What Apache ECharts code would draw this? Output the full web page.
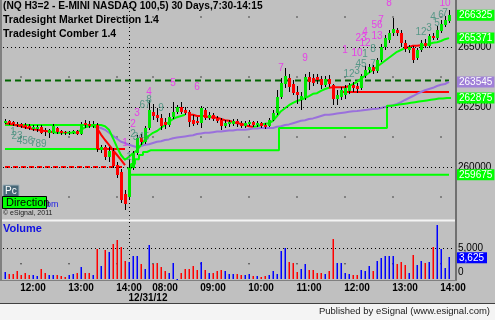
<!DOCTYPE html>
<html><head><meta charset="utf-8">
<script src="https://cdn.jsdelivr.net/npm/echarts@6/dist/echarts.min.js"></script>
<style>html,body{margin:0;padding:0;background:#c0c0c0;overflow:hidden}#c{width:495px;height:320px}</style>
</head><body><div id="c"></div><script>
// ---- categories (5-minute bars, two sessions) ----
function buildTimes(start, end){const out=[];let [h,m]=start.split(':').map(Number);const [eh,em]=end.split(':').map(Number);
  while(h*60+m<=eh*60+em){out.push(String(h).padStart(2,'0')+':'+String(m).padStart(2,'0'));m+=5;if(m>=60){m-=60;h++;}}return out;}
const times = buildTimes('11:25','14:10').concat(buildTimes('07:30','14:00'));

// ---- OHLC ----
const open  = [261825,261925,261875,261800,261800,261750,261700,261575,261575,261675,261550,261425,261425,261625,261500,261450,261425,261425,261500,261375,261825,261800,261700,261750,260700,260825,260425,260675,260075,259800,258875,258750,259950,260575,
261250,261050,261625,262300,262175,262050,261875,261750,262075,262300,262500,262375,262300,261950,261925,261825,262375,262050,262175,262050,261950,261700,261800,261800,261925,261825,261700,261800,261875,261750,261825,261750,261700,261950,262250,262925,263450,263700,263450,263125,262800,262875,263750,263700,263750,263675,263425,263675,263425,262825,262925,263000,263175,263425,263375,263300,263800,264050,264175,264000,264450,265000,265300,265575,265700,265575,265175,264875,264950,264550,264875,265175,265050,265450,265375,265675,265925,266075];
const close = [261925,261825,261800,261750,261700,261675,261625,261675,261675,261425,261450,261550,261700,261450,261425,261425,261450,261500,261375,261800,261750,261700,261800,260750,260825,260425,260675,260050,259675,258625,258450,259950,260575,261200,
261050,261625,262375,262125,262050,261700,261750,262075,262300,262500,262300,262250,261875,261800,261825,262450,262050,262175,262000,261925,261700,261825,261875,261925,261800,261700,261825,261875,261750,261825,261700,261675,261950,262250,262925,263500,263800,263325,263075,263000,262950,263750,263550,263500,263625,263425,263675,263450,262825,263000,263200,263300,263425,263300,263250,263800,264050,264175,264000,264450,265000,265375,265575,265750,265575,265175,264925,265000,264450,264875,265175,265050,265450,265375,265700,265950,266125,266325];
const low   = [261800,261750,261700,261675,261625,261575,261550,261500,261450,261375,261300,261200,261375,261375,261325,261325,261325,261375,261325,261325,261625,261625,261625,260625,260575,260300,260200,259950,259550,258500,258200,258625,259875,260500,
260925,260950,261550,261950,261875,261550,261575,261675,262000,262200,262200,262175,261675,261700,261750,261625,261950,261950,261925,261825,261550,261625,261675,261700,261675,261625,261625,261700,261675,261675,261625,261575,261675,261925,262175,262825,263300,263125,263000,262625,262375,262800,263200,263375,263450,263250,263325,263325,262575,262575,262800,262825,263050,263125,263075,263200,263700,263925,263875,263925,264375,264875,265175,265450,265450,265000,264800,264750,264325,264450,264800,264950,264950,265300,265300,265575,265825,266000];
const high  = [262000,261950,261925,261875,261825,261825,261800,261750,261750,261750,261625,261575,261800,261675,261550,261500,261500,261550,261550,261875,261950,261925,261925,261825,260925,260925,260825,260800,260200,259925,259050,260300,260675,261325,
261375,261700,262800,262625,262450,262200,262050,262250,262700,262575,262700,262500,262375,262175,262075,262550,262450,262300,262250,262125,262050,261950,261950,262000,262000,261925,261925,261950,261925,261925,261875,261825,262050,262375,263200,263700,264125,263875,263625,263375,263125,263875,263950,263875,263875,263800,263800,263825,263450,263200,263325,263425,263500,263550,263500,263875,264200,264300,264250,264550,265125,265500,265700,266200,265800,265700,265300,265075,265050,264950,265300,265325,265550,265575,265875,266125,266300,266550];
const volume = [1150,880,760,1270,590,1050,590,590,420,1730,990,590,590,590,420,330,590,880,1050,2000,990,1050,590,4950,2170,4710,4440,5850,6360,5290,2970,2850,3810,3810,2460,1610,5680,2460,2570,1900,1320,1050,2680,80,990,1730,1730,2170,1560,2850,1560,1050,990,1320,1560,1270,880,760,760,590,700,880,420,420,330,420,590,1270,880,4550,5120,2750,2680,1150,1730,2400,1560,1560,1050,1050,880,1270,6520,2680,2680,1050,880,590,680,1470,1270,2120,1320,2970,3530,3870,3870,3870,2400,2750,2290,990,3980,2290,3020,2570,2850,5290,8900,5000,1830,3625];

// ---- indicator lines: [startIndex, values...] ----
const upperGreen = [[0,261750,261750,261750,261750,261750,261750,261750,261750,261750,261750,261750,261750,261750,261750,261750,261750,261750,261750,261750,261750,261750,261750,261750,261750,261750,261700,261550,261200,260825,260500,260300,260425,260575,260700,260925,261125,261300,261425,261500,261625,261750,261875,262000,262075,262125,262175],
  [62,261675,261700,261750,261800,261825,261925,262125,262325,262450,262575,262675,262750,262800,262875,262950,263050,263075,263175,263250,263300],
  [86,263375,263450,263550,263675,263800,263925,264050,264175,264300,264425,264550,264675,264800,264875,264950],
  [104,265075,265075,265125,265175,265200,265250,265325,265371]];
const upperRed = [[46,262175,262175,262125,262125,262125,262075,262075,262050,262000,261950,261925,261875,261825,261800,261750,261700,261675],
  [81,263300,263325,263325,263325,263325,263375],
  [100,264950,265000,265050,265050,265075]];
const dirRed = [[0,261825,261800,261775,261725,261700,261650,261625,261575,261550,261525,261500,261475,261450],
  [23,261625,261350,261125,260925,260700,260500,260300,260075]];
const dirGreen = [[12,261450,261425,261425,261425,261425,261425,261425,261550,261650,261700,261725,261625]];
const purple = [[23,261675,261625,261550,261425,261300,261175,261050,261000,260925,260875,260825,260875,260925,260950,261000,261050,261075,261125,261150,261200,261225,261250,261275,261300,261325,261375,261400,261425,261425,261450,261475,261475,261500,261525,261525,261550,261550,261550,261575,261600,261600,261625,261625,261625,261625,261675,261700,261750,261775,261825,261875,261925,261950,262000,262025,262075,262125,262175,262175,262200,262225,262250,262275,262300,262325,262333,262350,262375,262400,262417,262425,262458,262500,262542,262575,262625,262700,262792,262875,262958,263050,263125,263200,263250,263300,263375,263425,263458,263545]];
const lowerGreen = [[31,259950,260125,260325,260500,260625,260700,260700,260700,260700,260700,260700,260700,260700,260700,260700,260700,260700,260700,260700,260700,260700,260700,260700,260700,260700,260700,260700,260700,260700,260700,260700,260700,260700,260700,260700,260700,260700,260700,
  261625,261625,261625,261625,261625,261625,261625,261625,261625,261625,261625,261625,261625,261625,261625,261625,261625,261625,261625,261625,261625,261625,261625,261625,261625,261625,261625,
  262550,262575,262600,262625,262650,262675,262700,262725,262750,262775,262800,262825,262850,262850,262875,262875]];
const levelGreenDay1 = [[0].concat(new Array(24).fill(260750))];
const levelRedDay1   = [[23,260750,260750,260750,260750,260750,260750,260750,260750]];
const levelRedDash   = [[0].concat(new Array(31).fill(260000))];
const levelGreenDay2 = [[31].concat(new Array(81).fill(259675))];
const levelRedDay2   = [[84].concat(new Array(28).fill(263125))];
const levelDkGreen   = [[0].concat(new Array(112).fill(263600))];

// ---- Comber count labels: [index, price, text, kind] (p = magenta, t = teal) ----
const comber = [[2,261450,'1','t'],[3,261300,'23','t'],[5,261075,'456','t'],[7,261000,'7','t'],[9,260950,'89','t'],
 [30,261000,'1','p'],[31,260425,'1','t'],[32,261375,'2','t'],[32,261800,'2','p'],[33,262250,'3','p'],[34,261250,'345','t'],
 [35,262575,'67','t'],[36,262800,'8','t'],[39,262450,'9','t'],[36,263125,'4','p'],[42,263500,'5','p'],[48,263325,'6','p'],
 [69,264125,'7','p'],[75,264542,'9','p'],[85,264875,'1','p'],[88,264750,'10','p'],[90,264700,'1','t'],[92,264900,'8','t'],
 [89,264300,'45','t'],[92,264300,'7','t'],[86,263875,'12','t'],[88,264000,'3','t'],[89,265375,'23','p'],[90,265167,'12','p'],
 [90,265625,'4','p'],[93,265458,'13','p'],[93,265917,'56','p'],[94,266125,'7','p'],[96,266833,'8','p'],[110,266833,'10','p'],
 [104,265625,'12','t'],[106,265792,'3','t'],[107,266250,'4','t'],[108,266000,'5','t'],[109,266333,'6','t'],[110,266417,'7','t']];

const priceTicks = [260000,262500,265000];
const volTicks = [0,5000];
const lastLabels = [[266325,'#00ff00'],[265371,'#00ff00'],[263545,'#a080d8'],[262875,'#00ff00'],[259675,'#00ff00']];
const minorPrices = [258750,261250,263750,266250];

// ---- helpers ----
const N = times.length;
function expand(segs){const a=new Array(N).fill(null);segs.forEach(s=>{for(let k=1;k<s.length;k++)a[s[0]+k-1]=s[k];});return a;}
function lineSeries(segs,color,width,dash,step){return {type:'line',xAxisIndex:0,yAxisIndex:0,data:expand(segs),symbol:'none',silent:true,connectNulls:false,
  step:step||false,lineStyle:{color:color,width:width,type:dash||'solid'},z:3};}

const ohlc = open.map((o,i)=>[i,o,close[i],low[i],high[i]]);
const volUp = [], volDown = [];
volume.forEach((v,i)=>{ (close[i]>=open[i]?volUp:volDown).push([i,v]); });
const day2Start = times.indexOf('07:30', 1);
const minorIdx = [];
times.forEach((t,i)=>{ if(t.endsWith(':45') && i>0) minorIdx.push(i); });
const minorPts=[]; minorIdx.forEach(i=>minorPrices.forEach(p=>minorPts.push([i,p])));
const volMinor = minorIdx.map(i=>[i,2500]);

const FONT = 'Liberation Sans, Arial, sans-serif';
const chart = echarts.init(document.getElementById('c'),null,{renderer:'canvas'});
const dots = {color:'#000',width:1,type:[1,3]};
const tagLine = {color:'rgba(0,0,0,0)',width:0};

function volSeries(data,color){return {type:'custom',xAxisIndex:1,yAxisIndex:1,data:data,z:5,silent:true,
  itemStyle:{color:color},
  renderItem:(params,api)=>{const i=api.value(0);const t=api.coord([i,api.value(1)]),b=api.coord([i,0]);const x=Math.round(t[0]);
    const y0=Math.round(t[1]),y1=Math.round(b[1]);
    return {type:'rect',shape:{x:x-0.5,y:y0,width:1.5,height:Math.max(1,y1-y0)},style:{fill:color,stroke:null}};}};}

const option = {
  backgroundColor:'#c0c0c0', animation:false,
  grid:[{left:3,top:0,width:452,height:220},{left:3,top:222,width:452,height:57}],
  xAxis:[
   {type:'category',gridIndex:0,data:times,boundaryGap:true,axisLine:{show:false},axisTick:{show:false},axisLabel:{show:false},splitLine:{show:false}},
   {type:'category',gridIndex:1,data:times,boundaryGap:true,axisLine:{show:false},axisTick:{show:false},
    axisLabel:{interval:(i,v)=>v.endsWith(':00'),color:'#000',fontFamily:FONT,fontWeight:'bold',fontSize:10,margin:4},splitLine:{show:false}}
  ],
  yAxis:[
   {type:'value',gridIndex:0,position:'right',min:257792,max:266958,axisLine:{show:false},axisTick:{show:false},splitLine:{show:false},
    axisLabel:{customValues:priceTicks,color:'#000',fontFamily:FONT,fontSize:10,margin:3,formatter:v=>String(v)}},
   {type:'value',gridIndex:1,position:'right',min:0,max:9400,axisLine:{show:false},axisTick:{show:false},splitLine:{show:false},
    axisLabel:{customValues:volTicks,color:'#000',fontFamily:FONT,fontSize:10,margin:3,
     formatter:v=>v===0?'{z|0}':'{f|'+v.toLocaleString('en-US')+'}',rich:{z:{padding:[0,0,14,0],fontFamily:FONT,fontSize:10},f:{fontFamily:FONT,fontSize:10}}}}
  ],
  series:[
   {type:'line',xAxisIndex:0,yAxisIndex:0,data:[],silent:true,z:1,
    markLine:{silent:true,symbol:'none',label:{show:false},lineStyle:dots,data:priceTicks.map(p=>({yAxis:p})).concat([{xAxis:31}])}},
   {type:'line',xAxisIndex:1,yAxisIndex:1,data:[],silent:true,z:1,
    markLine:{silent:true,symbol:'none',label:{show:false},lineStyle:dots,data:[{yAxis:5000},{xAxis:31}]}},
   {type:'scatter',xAxisIndex:0,yAxisIndex:0,data:minorPts,symbolSize:1.5,itemStyle:{color:'#000'},silent:true,z:1},
   {type:'scatter',xAxisIndex:1,yAxisIndex:1,data:volMinor,symbolSize:1.5,itemStyle:{color:'#000'},silent:true,z:1},
   lineSeries(levelDkGreen,'#006400',2,[6,4]),
   lineSeries(levelRedDash,'#ff0000',2,[5,3]),
   lineSeries(levelGreenDay1,'#00ff00',2),
   lineSeries(levelRedDay1,'#ff0000',2),
   lineSeries(levelGreenDay2,'#00ff00',2),
   lineSeries(levelRedDay2,'#ff0000',2),
   lineSeries(purple,'#9a70dc',2),
   lineSeries(lowerGreen,'#00ff00',2,null,'middle'),
   lineSeries(upperGreen,'#00ff00',2),
   lineSeries(upperRed,'#ff0000',2),
   lineSeries(dirGreen,'#00ff00',2),
   lineSeries(dirRed,'#ff0000',2),
   {type:'custom',xAxisIndex:0,yAxisIndex:0,data:ohlc,z:5,silent:true,
    renderItem:(params,api)=>{const i=api.value(0);const o=api.coord([i,api.value(1)]),c=api.coord([i,api.value(2)]),l=api.coord([i,api.value(3)]),h=api.coord([i,api.value(4)]);
     const x=Math.round(o[0]);const up=api.value(2)>=api.value(1);const top=Math.round(Math.min(o[1],c[1])),bot=Math.round(Math.max(o[1],c[1]));
     return {type:'group',children:[
      {type:'rect',shape:{x:x,y:Math.round(h[1]),width:1,height:Math.max(1,Math.round(l[1])-Math.round(h[1]))},style:{fill:'#000'}},
      {type:'rect',shape:{x:x-1,y:top,width:3,height:Math.max(1,bot-top)},style:{fill:bot-top<1?'#000':(up?'#00e800':'#ff0000')}}]};}},
   volSeries(volUp,'#0000ff'),
   volSeries(volDown,'#ff0000'),
   {type:'scatter',xAxisIndex:0,yAxisIndex:0,symbolSize:0,silent:true,z:6,
    data:comber.map(c=>({value:[c[0],c[1]],label:{show:true,position:'inside',formatter:c[2],color:c[3]==='p'?'#f020f0':'#3c8c78',fontFamily:FONT,fontSize:10}}))},
   {type:'line',xAxisIndex:0,yAxisIndex:0,data:[],silent:true,z:8,
    markLine:{silent:true,symbol:'none',lineStyle:tagLine,
     data:lastLabels.map(d=>({yAxis:d[0],lineStyle:tagLine,label:{show:true,position:'end',distance:2,formatter:String(d[0]),color:'#fff',backgroundColor:d[1],padding:[1,2,0,2],fontFamily:FONT,fontSize:10,opacity:1}}))}},
   {type:'line',xAxisIndex:1,yAxisIndex:1,data:[],silent:true,z:8,
    markLine:{silent:true,symbol:'none',lineStyle:tagLine,
     data:[{yAxis:3500,lineStyle:tagLine,label:{show:true,position:'end',distance:2,formatter:volume[volume.length-1].toLocaleString('en-US'),color:'#fff',backgroundColor:'#0000ff',padding:[1,3,0,2],fontFamily:FONT,fontSize:10,opacity:1}}]}}
  ]
};
chart.setOption(option);

const dx = chart.convertToPixel({xAxisIndex:1}, day2Start);
chart.setOption({graphic:[
  {type:'rect',shape:{x:0,y:303,width:495,height:17},style:{fill:'#f4f4f4'},z:1},
  {type:'line',shape:{x1:0,y1:303.5,x2:495,y2:303.5},style:{stroke:'#404040',lineWidth:1},z:2},
  {type:'line',shape:{x1:456,y1:0,x2:456,y2:281},style:{stroke:'#707070',lineWidth:2},z:20},
  {type:'line',shape:{x1:1,y1:0,x2:1,y2:281},style:{stroke:'#808080',lineWidth:2},z:20},
  {type:'line',shape:{x1:2,y1:220.5,x2:455,y2:220.5},style:{stroke:'#f4f4f4',lineWidth:2},z:20},
  {type:'line',shape:{x1:0,y1:280.5,x2:457,y2:280.5},style:{stroke:'#808080',lineWidth:1},z:20},
  {type:'text',left:3,top:1,style:{text:'(NQ H3=2 - E-MINI NASDAQ 100,5) 30 Days,7:30-14:15',font:'bold 10.2px '+FONT,fill:'#000'},z:20},
  {type:'text',left:3,top:15,style:{text:'Tradesight Market Direction 1.4',font:'bold 10.5px '+FONT,fill:'#000'},z:20},
  {type:'text',left:3,top:29,style:{text:'Tradesight Comber 1.4',font:'bold 10.5px '+FONT,fill:'#000'},z:20},
  {type:'text',left:3,top:223,style:{text:'Volume',font:'bold 11px '+FONT,fill:'#1010e0'},z:20},
  {type:'text',x:dx+7,y:293,style:{text:'12/31/12',font:'bold 10px '+FONT,fill:'#000',textAlign:'center'},z:20},
  {type:'text',right:5,top:306,style:{text:'Published by eSignal (www.esignal.com)',font:'9.5px '+FONT,fill:'#202020'},z:20},
  {type:'rect',shape:{x:3,y:185,width:16,height:12},style:{fill:'#486878',stroke:'#a0b0b8',lineWidth:1},z:20},
  {type:'text',x:5,y:186,style:{text:'Pc',font:'10px '+FONT,fill:'#fff'},z:21},
  {type:'text',x:46,y:200,style:{text:'om',font:'9px '+FONT,fill:'#2020e0'},z:20},
  {type:'rect',shape:{x:2.5,y:196.5,width:44,height:12},style:{fill:'#00ff00',stroke:'#000',lineWidth:1},z:21},
  {type:'text',x:6,y:197,style:{text:'Direction',font:'11px '+FONT,fill:'#000'},z:22},
  {type:'text',x:3,y:210,style:{text:'© eSignal, 2011',font:'7px '+FONT,fill:'#202020'},z:20}
]});
</script></body></html>
